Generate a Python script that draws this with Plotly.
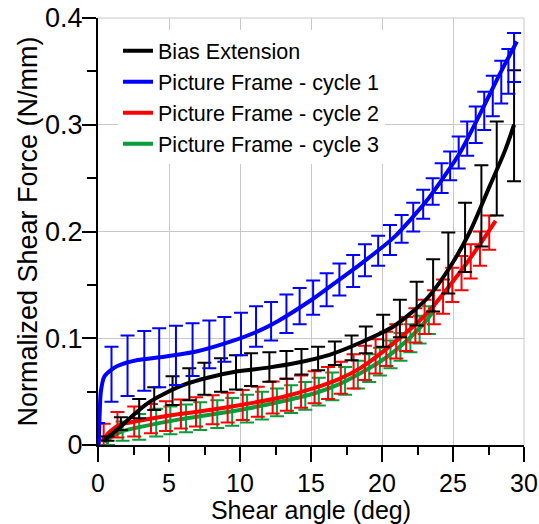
import plotly.graph_objects as go

# ---------------- data ----------------
# Smooth curves
be_line_x = [0.4, 1.37, 2.31, 3.49, 4.67, 6.08, 7.72, 9.84, 12.0, 14.0, 16.3, 18.5, 20.8, 23.15, 24.8, 26.2, 27.6, 28.67, 29.3]
be_line_y = [0.004, 0.0145, 0.026, 0.039, 0.048, 0.0565, 0.063, 0.069, 0.0725, 0.077, 0.0845, 0.096, 0.111, 0.137, 0.167, 0.200, 0.243, 0.276, 0.300]

pf1_line_x = [0.05, 0.12, 0.2, 0.44, 1.0, 1.37, 2.79, 4.67, 7.0, 9.37, 11.25, 12.66, 15.15, 17.0, 18.44, 20.8, 23.1, 24.3, 25.5, 26.9, 28.2, 29.5]
pf1_line_y = [0.0, 0.03, 0.05, 0.064, 0.071, 0.074, 0.0796, 0.0827, 0.0878, 0.097, 0.1065, 0.116, 0.137, 0.155, 0.169, 0.194, 0.228, 0.250, 0.274, 0.310, 0.345, 0.378]

pf2_line_x = [0.3, 0.8, 1.5, 3.0, 5.75, 8.0, 10.45, 13.0, 15.15, 17.0, 18.44, 20.8, 23.15, 25.5, 27.0, 28.0]
pf2_line_y = [0.004, 0.012, 0.0187, 0.023, 0.029, 0.033, 0.0384, 0.045, 0.053, 0.062, 0.0718, 0.0952, 0.123, 0.162, 0.190, 0.210]

pf3_line_x = [0.5, 1.0, 1.73, 3.0, 5.75, 8.0, 10.45, 13.0, 15.15, 17.0, 18.44, 19.85, 20.8, 22.0, 23.15, 23.7]
pf3_line_y = [0.002, 0.008, 0.013, 0.017, 0.024, 0.0285, 0.034, 0.041, 0.048, 0.057, 0.067, 0.078, 0.087, 0.101, 0.117, 0.127]

# Error-bar points (mean +/- error)
be_err_x = [0.67, 1.61, 2.9, 3.96, 5.25, 6.43, 7.49, 8.66, 9.72, 10.78, 12.07, 13.27, 14.33, 15.5, 16.68, 17.86, 18.86, 20.08, 21.26, 22.44, 23.6, 24.67, 25.85, 27.0, 28.08, 29.3]
be_err_y = [0.006, 0.020, 0.034, 0.0434, 0.051, 0.057, 0.062, 0.0656, 0.068, 0.0706, 0.073, 0.075, 0.078, 0.081, 0.086, 0.091, 0.0985, 0.107, 0.1185, 0.1325, 0.1495, 0.1705, 0.1945, 0.224, 0.259, 0.299]
be_err_e = [0.002, 0.006, 0.009, 0.0106, 0.0135, 0.015, 0.015, 0.0156, 0.016, 0.0153, 0.0138, 0.013, 0.012, 0.011, 0.011, 0.0115, 0.0125, 0.015, 0.0175, 0.0205, 0.0245, 0.0285, 0.0325, 0.038, 0.044, 0.052]

pf1_err_x = [0.0, 0.95, 2.08, 3.26, 4.31, 5.49, 6.66, 7.84, 8.9, 10.07, 11.13, 12.19, 13.27, 14.2, 15.15, 16.1, 17.0, 17.97, 18.8, 19.73, 20.56, 21.38, 22.2, 22.9, 23.57, 24.2, 24.8, 25.4, 26.0, 26.6, 27.2, 27.8, 28.4, 28.9, 29.3]
pf1_err_y = [0.0035, 0.0663, 0.0742, 0.0789, 0.0817, 0.0839, 0.0893, 0.0942, 0.099, 0.104, 0.111, 0.116, 0.123, 0.130, 0.138, 0.1455, 0.155, 0.163, 0.173, 0.182, 0.192, 0.2025, 0.2135, 0.2255, 0.2375, 0.250, 0.2615, 0.274, 0.287, 0.300, 0.313, 0.327, 0.340, 0.350, 0.363]
pf1_err_e = [0.017, 0.0257, 0.0283, 0.028, 0.0277, 0.0277, 0.0247, 0.0224, 0.021, 0.020, 0.019, 0.018, 0.018, 0.017, 0.016, 0.0155, 0.015, 0.015, 0.015, 0.014, 0.014, 0.013, 0.0135, 0.0135, 0.0125, 0.014, 0.0135, 0.015, 0.016, 0.017, 0.018, 0.019, 0.020, 0.021, 0.023]

pf2_err_x = [0.4, 1.37, 2.55, 3.73, 4.78, 5.84, 6.9, 8.07, 9.13, 10.19, 11.25, 12.3, 13.3, 14.3, 15.25, 16.2, 17.1, 18.0, 18.8, 19.55, 20.3, 21.0, 21.7, 22.35, 23.0, 23.65, 24.3, 24.95, 25.6, 26.25, 26.9, 27.55]
pf2_err_y = [0.005, 0.019, 0.022, 0.0247, 0.027, 0.029, 0.031, 0.033, 0.035, 0.0375, 0.0405, 0.0445, 0.047, 0.050, 0.054, 0.058, 0.063, 0.069, 0.077, 0.083, 0.090, 0.097, 0.104, 0.112, 0.120, 0.129, 0.139, 0.150, 0.161, 0.172, 0.184, 0.199]
pf2_err_e = [0.015, 0.012, 0.014, 0.0137, 0.014, 0.0136, 0.0137, 0.0136, 0.014, 0.014, 0.014, 0.015, 0.015, 0.015, 0.015, 0.015, 0.015, 0.016, 0.016, 0.016, 0.016, 0.016, 0.016, 0.016, 0.016, 0.016, 0.016, 0.016, 0.016, 0.016, 0.016, 0.016]

pf3_err_x = [0.7, 1.73, 2.9, 4.1, 5.1, 6.2, 7.2, 8.4, 9.45, 10.5, 11.55, 12.6, 13.6, 14.6, 15.55, 16.5, 17.4, 18.3, 19.1, 19.85, 20.6, 21.3, 22.0, 22.65, 23.3]
pf3_err_y = [0.004, 0.013, 0.017, 0.021, 0.023, 0.025, 0.027, 0.029, 0.031, 0.034, 0.037, 0.040, 0.043, 0.046, 0.050, 0.055, 0.060, 0.066, 0.072, 0.078, 0.085, 0.092, 0.100, 0.108, 0.117]
pf3_err_e = [0.004, 0.009, 0.012, 0.013, 0.013, 0.013, 0.013, 0.013, 0.013, 0.013, 0.013, 0.013, 0.013, 0.013, 0.013, 0.013, 0.013, 0.013, 0.013, 0.013, 0.013, 0.013, 0.013, 0.013, 0.013]

series_names = ["Bias Extension", "Picture Frame - cycle 1", "Picture Frame - cycle 2", "Picture Frame - cycle 3"]
x_title = "Shear angle (deg)"
y_title = "Normalized Shear Force (N/mm)"

# ---------------- styles ----------------
BLACK, BLUE, RED, GREEN = "#000000", "#0000FF", "#FF0000", "#0A9B3A"
FONT = "Liberation Sans, Arial, sans-serif"

fig = go.Figure()

def add_series(lx, ly, ex, ey, ee, color, name, rank):
    fig.add_trace(go.Scatter(
        x=ex, y=ey, mode="markers", showlegend=False, hoverinfo="skip",
        marker=dict(size=1, opacity=0, color=color),
        error_y=dict(type="data", array=ee, visible=True, color=color, thickness=2, width=7),
        cliponaxis=False))
    fig.add_trace(go.Scatter(
        x=lx, y=ly, mode="lines", name=name, legendrank=rank, hoverinfo="skip",
        line=dict(color=color, width=4, shape="spline", smoothing=0.7)))

add_series(pf3_line_x, pf3_line_y, pf3_err_x, pf3_err_y, pf3_err_e, GREEN, series_names[3], 4)
add_series(pf2_line_x, pf2_line_y, pf2_err_x, pf2_err_y, pf2_err_e, RED, series_names[2], 3)
add_series(be_line_x, be_line_y, be_err_x, be_err_y, be_err_e, BLACK, series_names[0], 1)
add_series(pf1_line_x, pf1_line_y, pf1_err_x, pf1_err_y, pf1_err_e, BLUE, series_names[1], 2)

fig.update_layout(
    width=539, height=524,
    margin=dict(l=98, r=15, t=18, b=79, autoexpand=False),
    paper_bgcolor="white", plot_bgcolor="white",
    font=dict(family=FONT, color="black"),
    showlegend=True,
    legend=dict(x=0.047, y=0.971, xanchor="left", yanchor="top",
                bgcolor="white", borderwidth=0,
                font=dict(family=FONT, size=21.5, color="black")),
    xaxis=dict(range=[0, 30], tick0=0, dtick=5, showline=True, linecolor="black", linewidth=2,
               ticks="outside", ticklen=15, tickwidth=2, tickcolor="black",
               showgrid=True, gridcolor="#C8C8C8", gridwidth=1, zeroline=False, automargin=False,
               tickfont=dict(family=FONT, size=25), ticklabeloverflow="allow",
               minor=dict(dtick=2.5, ticks="outside", ticklen=8, tickwidth=2, tickcolor="black", showgrid=False),
               title=dict(text=x_title, font=dict(family=FONT, size=25), standoff=5)),
    yaxis=dict(range=[0, 0.4], tick0=0, dtick=0.1, showline=True, linecolor="black", linewidth=2,
               ticks="outside", ticklen=14, tickwidth=2, tickcolor="black",
               showgrid=True, gridcolor="#C8C8C8", gridwidth=1, zeroline=False, automargin=False,
               tickfont=dict(family=FONT, size=27), ticklabelstandoff=-6, ticklabeloverflow="allow",
               minor=dict(dtick=0.05, ticks="outside", ticklen=9, tickwidth=2, tickcolor="black", showgrid=False),
               title=dict(text=y_title, font=dict(family=FONT, size=27), standoff=0)),
    shapes=[
        dict(type="line", xref="paper", yref="paper", x0=0, x1=1, y0=1, y1=1,
             line=dict(color="#C8C8C8", width=1), layer="below"),
        dict(type="line", xref="paper", yref="paper", x0=1, x1=1, y0=0, y1=1,
             line=dict(color="#C8C8C8", width=1), layer="below"),
    ],
)

# remove the default page margin so the 539x524 figure fills the window exactly
fig.write_html("out.html", config={"displayModeBar": False, "staticPlot": True},
               post_script="document.body.style.margin='0px';document.documentElement.style.overflow='hidden';")
